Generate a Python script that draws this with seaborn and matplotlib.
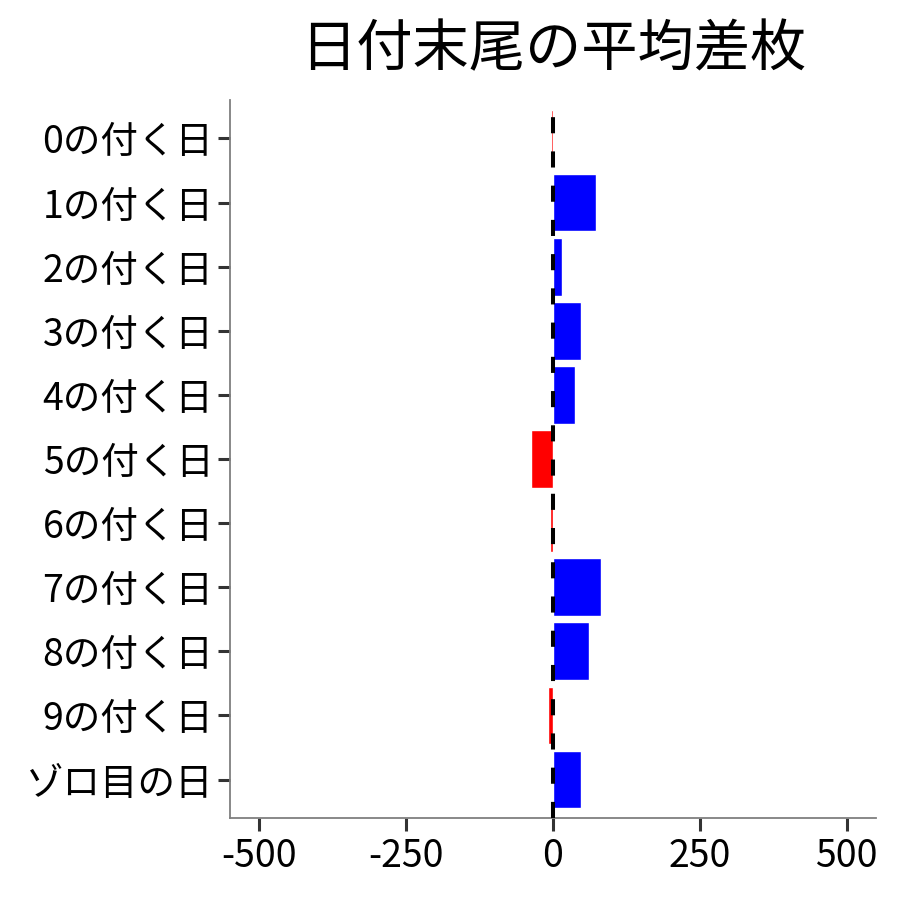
import numpy as np
import pandas as pd
import matplotlib
matplotlib.use('Agg')
import matplotlib.pyplot as plt
import seaborn as sns

# データ
categories = ['0の付く日', '1の付く日', '2の付く日', '3の付く日', '4の付く日',
              '5の付く日', '6の付く日', '7の付く日', '8の付く日', '9の付く日', 'ゾロ目の日']
values = [-4, 74, 15, 47, 37, -37, -5, 81, 62, -8, 47]
xticks = [-500, -250, 0, 250, 500]

sns.set_theme(style='white')
plt.rcParams['font.family'] = ['Noto Sans CJK JP', 'DejaVu Sans']

df = pd.DataFrame({'cat': categories, 'val': values})
df['sign'] = np.where(df['val'] >= 0, 'pos', 'neg')

fig = plt.figure(figsize=(9, 9), dpi=100)
ax = fig.add_axes([230 / 900, 82 / 900, 646 / 900, 718 / 900])

sns.barplot(data=df, x='val', y='cat', hue='sign', order=categories,
            palette={'pos': '#0000FF', 'neg': '#FF0000'}, orient='h',
            width=0.9, dodge=False, legend=False, saturation=1, ax=ax)

ax.axvline(0, color='black', lw=2.9, dashes=(4, 4.5), zorder=5)

ax.set_xlim(-550, 550)
ax.set_ylim(len(categories) - 1 + 0.6, -0.6)
ax.set_xticks(xticks)
ax.set_xticklabels([str(v) for v in xticks])
ax.set_xlabel('')
ax.set_ylabel('')
ax.set_title('日付末尾の平均差枚', fontsize=40.5, pad=24, color='black')

for s in ['top', 'right']:
    ax.spines[s].set_visible(False)
for s in ['left', 'bottom']:
    ax.spines[s].set_color('#7f7f7f')
    ax.spines[s].set_linewidth(1.3)
ax.tick_params(axis='both', which='major', length=9, width=2.2, color='#333333',
               labelsize=27, labelcolor='black', pad=3, left=True, bottom=True)
ax.tick_params(axis='x', pad=5)

fig.savefig('out.png', dpi=100)
